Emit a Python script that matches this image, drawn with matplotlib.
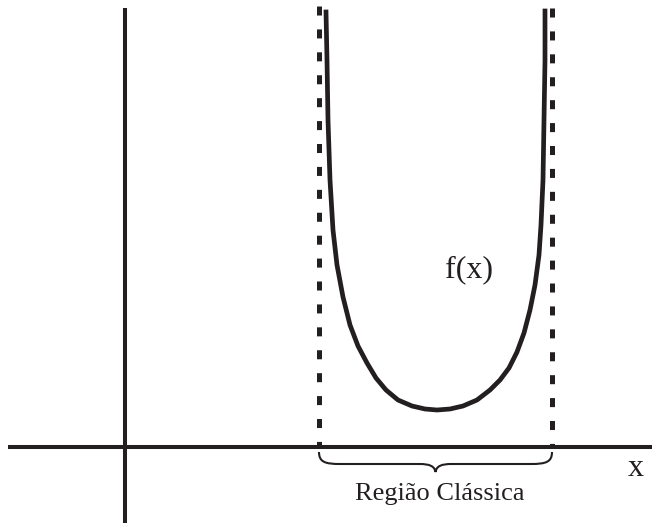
import matplotlib
matplotlib.use("Agg")
import matplotlib.pyplot as plt
from matplotlib.path import Path
from matplotlib.patches import PathPatch

INK = '#231f20'

# curve f(x) in pixel coordinates (y grows downward)
curve_x = [326, 327, 328, 330, 333, 337, 343, 350, 358, 367, 376, 386, 398, 412, 425, 437,
           450, 463, 477, 490, 500, 509, 517, 524, 530, 535, 539, 541, 543, 544, 545, 545]
curve_y = [12, 60, 120, 180, 230, 265, 297, 325, 346, 363, 378, 390, 400, 406, 409, 410,
           409, 406, 400, 390, 380, 368, 352, 333, 310, 285, 255, 225, 180, 120, 60, 11]

# turning points (dashed lines) and axes
turning_x = [319, 552]
dash_top = [6, 8]
axis_origin = (125, 447)
xaxis_span = (8, 652)
yaxis_span = (8, 523)

labels = {'curve': 'f(x)', 'axis': 'x', 'region': 'Região Clássica'}

fig = plt.figure(figsize=(6.59, 5.29), dpi=100)
ax = fig.add_axes([0, 0, 1, 1])
ax.set_xlim(0, 659)
ax.set_ylim(529, 0)
ax.axis('off')

plt.rcParams['lines.scale_dashes'] = False

# axes lines
ax.plot(xaxis_span, [axis_origin[1]] * 2, color=INK, lw=2.9, solid_capstyle='butt')
ax.plot([axis_origin[0]] * 2, yaxis_span, color=INK, lw=2.9, solid_capstyle='butt')

# dashed turning-point lines
for tx, top in zip(turning_x, dash_top):
    ax.plot([tx, tx], [top, axis_origin[1]], color=INK, lw=3.6,
            dashes=(6.5, 10), dash_capstyle='butt')

# the curve
ax.plot(curve_x, curve_y, color=INK, lw=3.4, solid_joinstyle='round')

# brace under the classical region
l, r = turning_x
mid = (l + r) / 2
top, flat, tip = 452, 464, 472
verts = [(l, top),
         (l, flat - 2), (l + 6, flat), (l + 21, flat),
         (mid - 16, flat),
         (mid - 6, flat), (mid - 1, flat + 2), (mid, tip),
         (mid + 1, flat + 2), (mid + 6, flat), (mid + 16, flat),
         (r - 21, flat),
         (r - 6, flat), (r, flat - 2), (r, top)]
codes = [Path.MOVETO,
         Path.CURVE4, Path.CURVE4, Path.CURVE4,
         Path.LINETO,
         Path.CURVE4, Path.CURVE4, Path.CURVE4,
         Path.CURVE4, Path.CURVE4, Path.CURVE4,
         Path.LINETO,
         Path.CURVE4, Path.CURVE4, Path.CURVE4]
ax.add_patch(PathPatch(Path(verts, codes), fill=False, color=INK, lw=1.5))

serif = ['Liberation Serif', 'DejaVu Serif']
ax.text(469, 270, labels['curve'], family=serif, fontsize=23, color=INK,
        ha='center', va='center')
ax.text(636, 469, labels['axis'], family=serif, fontsize=23, color=INK,
        ha='center', va='center')
ax.text(440, 494, labels['region'], family=serif, fontsize=19, color=INK,
        ha='center', va='center')

fig.savefig('out.png', dpi=100)
